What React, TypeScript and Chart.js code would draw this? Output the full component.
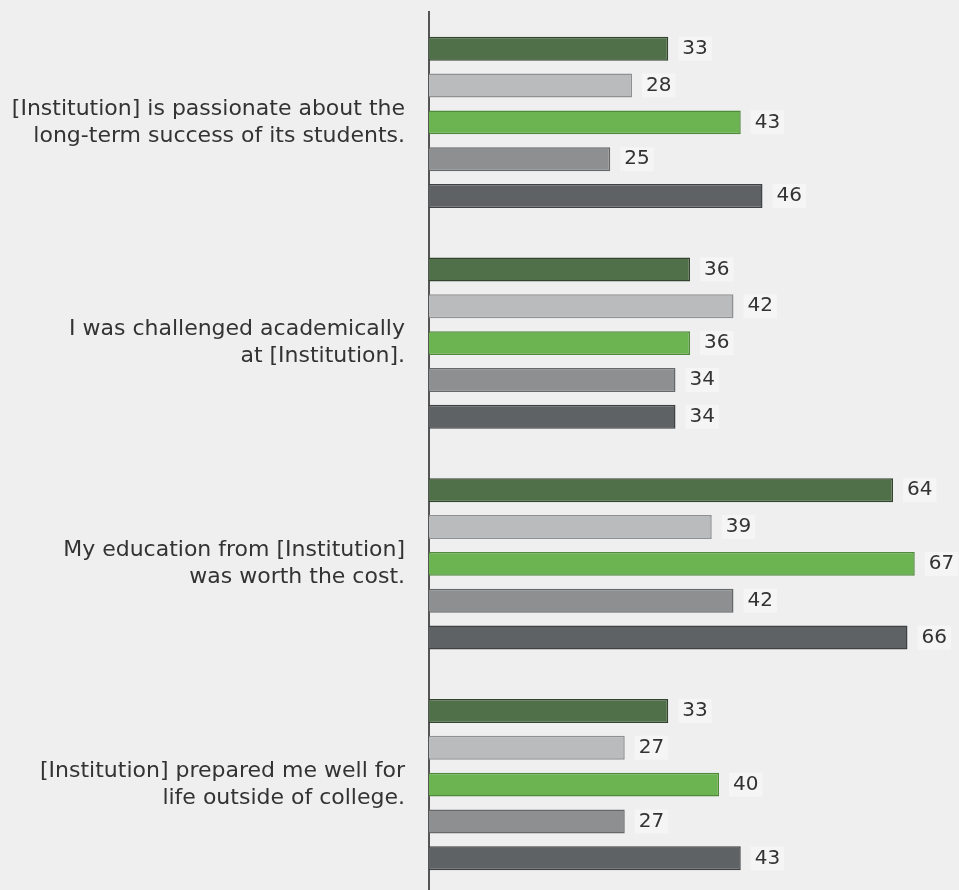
import React, { useEffect, useRef } from "react";
import { Chart, registerables } from "chart.js";

Chart.register(...registerables);

const categories: string[][] = [
  ["[Institution] is passionate about the", "long-term success of its students."],
  ["I was challenged academically", "at [Institution]."],
  ["My education from [Institution]", "was worth the cost."],
  ["[Institution] prepared me well for", "life outside of college."],
];

const series1 = [33, 36, 64, 33];
const series2 = [28, 42, 39, 27];
const series3 = [43, 36, 67, 40];
const series4 = [25, 34, 42, 27];
const series5 = [46, 34, 66, 43];

const seriesNames = ["Series 1", "Series 2", "Series 3", "Series 4", "Series 5"];
const fillColors = ["#50704a", "#b9bbbd", "#6cb352", "#8d8f91", "#5f6264"];
const edgeColors = ["#34452f", "#8e9092", "#4f8a3b", "#66686a", "#3f4143"];

const FONT = "'DejaVu Sans', 'Liberation Sans', Arial, sans-serif";
const BG = "#efefef";

export default function App() {
  const ref = useRef<HTMLCanvasElement | null>(null);

  useEffect(() => {
    document.body.style.margin = "0";
    document.body.style.background = BG;
    const canvas = ref.current;
    if (!canvas) return;

    const bgPlugin = {
      id: "bg",
      beforeDraw(chart: any) {
        const { ctx, width, height } = chart;
        ctx.save();
        ctx.fillStyle = BG;
        ctx.fillRect(0, 0, width, height);
        ctx.restore();
      },
    };

    const labelPlugin = {
      id: "valueLabels",
      afterDatasetsDraw(chart: any) {
        const { ctx } = chart;
        ctx.save();
        ctx.font = `20px ${FONT}`;
        ctx.textBaseline = "middle";
        ctx.textAlign = "left";
        chart.data.datasets.forEach((ds: any, di: number) => {
          const meta = chart.getDatasetMeta(di);
          meta.data.forEach((bar: any, i: number) => {
            const txt = String(ds.data[i]);
            const x = bar.x + 14;
            const y = bar.y;
            const w = ctx.measureText(txt).width;
            ctx.fillStyle = "#f5f5f5";
            ctx.fillRect(x - 4, y - 12, w + 8, 24);
            ctx.fillStyle = "#333333";
            ctx.fillText(txt, x, y);
          });
        });
        ctx.restore();
      },
    };

    const data = [series1, series2, series3, series4, series5];

    const chart = new Chart(canvas, {
      type: "bar",
      data: {
        labels: categories,
        datasets: data.map((d, i) => ({
          label: seriesNames[i],
          data: d,
          backgroundColor: fillColors[i],
          borderColor: edgeColors[i],
          borderWidth: 1.5,
          categoryPercentage: 0.835,
          barPercentage: 0.65,
        })),
      },
      options: {
        indexAxis: "y",
        animation: false,
        responsive: false,
        maintainAspectRatio: false,
        layout: { padding: { top: 12, bottom: 5, left: 0, right: 8 } },
        plugins: {
          legend: { display: false },
          tooltip: { enabled: false },
        },
        scales: {
          x: {
            display: false,
            min: 0,
            max: 72,
          },
          y: {
            position: "left",
            afterFit(scale: any) {
              scale.width = 429;
              scale.paddingTop = 0;
              scale.paddingBottom = 0;
            },
            grid: { display: false, drawTicks: false },
            border: { display: true, color: "#555555", width: 2 },
            ticks: {
              padding: 24,
              color: "#333333",
              font: { family: FONT, size: 22, lineHeight: 1.23 },
            },
          },
        },
      },
      plugins: [bgPlugin, labelPlugin],
    });

    return () => chart.destroy();
  }, []);

  return (
    <div style={{ width: 959, height: 900, background: BG }}>
      <canvas ref={ref} width={959} height={900} style={{ display: "block" }} />
    </div>
  );
}
